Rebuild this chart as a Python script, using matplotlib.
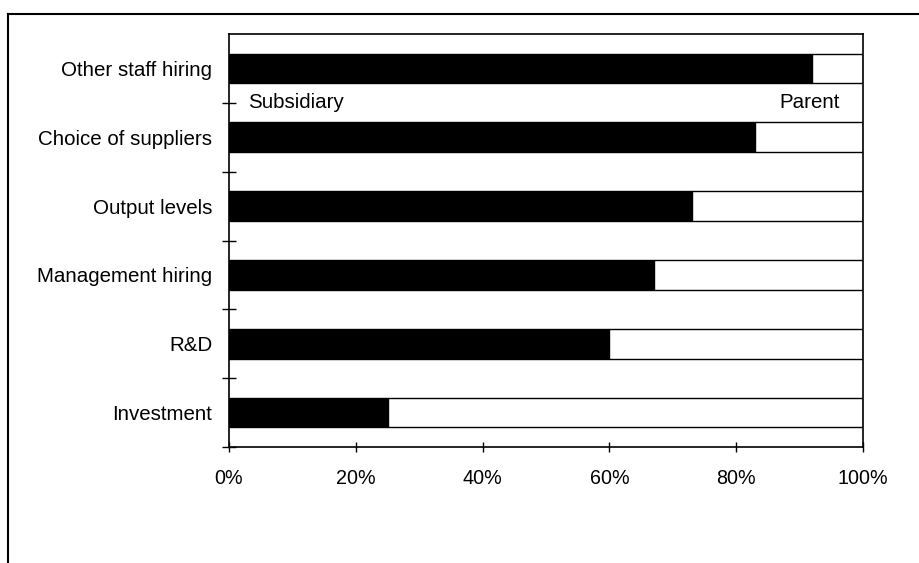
import matplotlib.pyplot as plt
import numpy as np
from matplotlib.lines import Line2D

plt.rcParams['font.family'] = ['Liberation Sans', 'DejaVu Sans']

categories = ['Investment', 'R&D', 'Management hiring', 'Output levels',
              'Choice of suppliers', 'Other staff hiring']
subsidiary = [25, 60, 67, 73, 83, 92]
parent = [100 - v for v in subsidiary]
xticks = [0, 20, 40, 60, 80, 100]

fig = plt.figure(figsize=(9.19, 5.63), dpi=100)
ax = fig.add_axes([229 / 919, 1 - 447 / 563, (863 - 229) / 919, (447 - 34) / 563])

y = np.arange(len(categories))
h = 0.43
ax.barh(y, subsidiary, h, color='black', edgecolor='black', linewidth=1)
ax.barh(y, parent, h, left=subsidiary, color='white', edgecolor='black', linewidth=1)

ax.set_xlim(0, 100)
ax.set_ylim(-0.5, len(categories) - 0.5)

ax.set_xticks(xticks)
ax.set_xticklabels(['%d%%' % t for t in xticks], fontsize=14.2)
ax.tick_params(axis='x', direction='inout', length=7, width=1, pad=12)

ax.set_yticks(y)
ax.set_yticklabels(categories, fontsize=14.8)
ax.set_yticks(np.arange(-0.5, len(categories) - 0.5, 1), minor=True)
ax.tick_params(axis='y', which='major', length=0, pad=12)
ax.tick_params(axis='y', which='minor', direction='inout', length=10, width=1)

for s in ax.spines.values():
    s.set_linewidth(1.2)
    s.set_color('black')

# in-chart labels between the two top bars
ax.text(3, 4.5, 'Subsidiary', fontsize=14.8, va='center', ha='left')
ax.text(96.4, 4.5, 'Parent', fontsize=14.8, va='center', ha='right')

# outer frame (cut off at the right and bottom of the scan)
fig.add_artist(Line2D([8 / 919, 1], [1 - 14 / 563, 1 - 14 / 563], color='black', linewidth=1.5))
fig.add_artist(Line2D([8 / 919, 8 / 919], [0, 1 - 14 / 563], color='black', linewidth=1.5))

fig.savefig('out.png', dpi=100)
